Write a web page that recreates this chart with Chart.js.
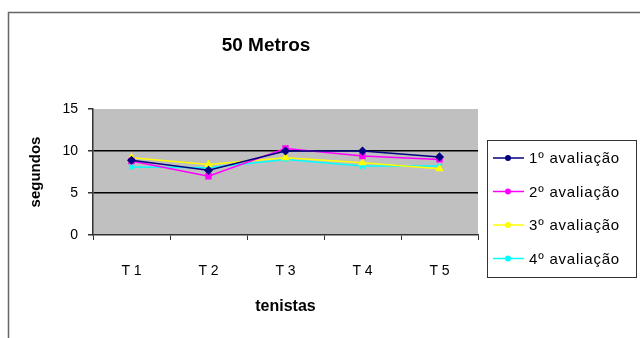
<!DOCTYPE html>
<html>
<head>
<meta charset="utf-8">
<script src="https://cdn.jsdelivr.net/npm/chart.js@4/dist/chart.umd.min.js"></script>
<style>
  html, body { margin: 0; padding: 0; background: #fff; }
  #wrap { width: 640px; height: 338px; }
</style>
</head>
<body>
<div id="wrap"><canvas id="chart" width="640" height="338"></canvas></div>
<script>
const chartTitle = '50 Metros';
const categories = ['T 1', 'T 2', 'T 3', 'T 4', 'T 5'];
const seriesNames = ['1º avaliação', '2º avaliação', '3º avaliação', '4º avaliação'];
const aval1 = [8.9, 7.7, 10.0, 10.0, 9.3];
const aval2 = [8.8, 7.0, 10.3, 9.4, 9.0];
const aval3 = [9.2, 8.4, 9.2, 8.6, 7.9];
const aval4 = [8.1, 8.0, 9.0, 8.2, 8.2];
const yTicks = [0, 5, 10, 15];

const fontFam = "'Liberation Sans Narrow', 'Liberation Sans', Arial, sans-serif";
const colors = ['#000080', '#ff00ff', '#ffff00', '#00ffff'];
const markers = ['rectRot', 'rect', 'triangle', 'crossRot'];

// gray plot background, outer frame, title and legend box
const decorPlugin = {
    id: 'decor',
    beforeDraw(chart) {
        const ctx = chart.ctx;
        const a = chart.chartArea;
        ctx.save();
        ctx.fillStyle = '#c0c0c0';
        ctx.fillRect(a.left, a.top, a.right - a.left, a.bottom - a.top);
        ctx.strokeStyle = '#666';
        ctx.lineWidth = 1.5;
        ctx.strokeRect(8.5, 12.5, 640, 340);
        ctx.restore();
    },
    afterDraw(chart) {
        const ctx = chart.ctx;
        ctx.save();
        ctx.fillStyle = '#000';
        ctx.font = 'bold 19px ' + fontFam;
        ctx.textAlign = 'center';
        ctx.textBaseline = 'middle';
        ctx.fillText(chartTitle, 266, 46);

        // legend
        ctx.strokeStyle = '#333';
        ctx.lineWidth = 1;
        ctx.strokeRect(487.5, 140.5, 149, 137);
        ctx.font = '15px ' + fontFam;
        ctx.letterSpacing = '0.8px';
        ctx.textAlign = 'left';
        chart.data.datasets.forEach((ds, i) => {
            const y = 158 + i * 33.5;
            ctx.strokeStyle = ds.borderColor;
            ctx.lineWidth = 1.5;
            ctx.beginPath();
            ctx.moveTo(493, y);
            ctx.lineTo(524, y);
            ctx.stroke();
            ctx.fillStyle = ds.borderColor;
            ctx.beginPath();
            ctx.arc(508, y, 3, 0, Math.PI * 2);
            ctx.fill();
            ctx.fillStyle = '#000';
            ctx.fillText(ds.label, 529, y + 1);
        });
        ctx.restore();
    }
};

const allSeries = [aval1, aval2, aval3, aval4];

new Chart(document.getElementById('chart'), {
    type: 'line',
    data: {
        labels: categories,
        datasets: allSeries.map((vals, i) => ({
            label: seriesNames[i],
            data: vals,
            borderColor: colors[i],
            backgroundColor: colors[i],
            borderWidth: 1.5,
            pointStyle: markers[i],
            pointRadius: 3.5,
            pointBorderWidth: 1.5,
            tension: 0
        }))
    },
    options: {
        responsive: false,
        animation: false,
        layout: { padding: { left: 27, right: 162, top: 109, bottom: 22 } },
        plugins: {
            legend: { display: false },
            title: { display: false },
            tooltip: { enabled: false }
        },
        scales: {
            x: {
                offset: true,
                grid: { offset: true, drawOnChartArea: false, drawTicks: true, tickLength: 5, color: '#333' },
                border: { color: '#333', width: 1.5 },
                ticks: { color: '#000', font: { family: fontFam, size: 14 }, padding: 23 },
                title: { display: true, text: 'tenistas', color: '#000', padding: 0,
                    font: { family: fontFam, size: 16, weight: 'bold' } },
                afterFit(scale) { scale.height = 81; }
            },
            y: {
                min: 0,
                max: 15,
                afterBuildTicks(scale) { scale.ticks = yTicks.map(v => ({ value: v })); },
                grid: {
                    color: ctx => (ctx.tick && (ctx.tick.value === 5 || ctx.tick.value === 10)) ? '#000' : 'rgba(0,0,0,0)',
                    lineWidth: 1.5,
                    tickColor: '#333',
                    tickLength: 5
                },
                border: { color: '#333', width: 1.5 },
                ticks: { color: '#000', font: { family: fontFam, size: 14 }, padding: 10 },
                title: { display: true, text: 'segundos', color: '#000', padding: 0,
                    font: { family: fontFam, size: 15, weight: 'bold' } },
                afterFit(scale) { scale.width = 66; }
            }
        }
    },
    plugins: [decorPlugin]
});
</script>
</body>
</html>
